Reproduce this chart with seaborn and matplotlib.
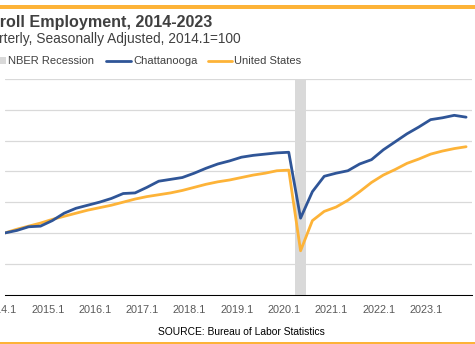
import matplotlib
matplotlib.use("Agg")
import matplotlib.pyplot as plt
import matplotlib.transforms as mtransforms
from matplotlib.patches import Rectangle
from matplotlib.lines import Line2D
import numpy as np
import pandas as pd
import seaborn as sns

# Quarterly payroll employment index, 2014.1 = 100
quarters = [f"{y}.{q}" for y in range(2014, 2024) for q in range(1, 5)]

chattanooga = [
    100.0, 100.4, 101.0, 101.1, 102.0, 103.2, 104.0, 104.5,
    105.0, 105.6, 106.4, 106.5, 107.4, 108.4, 108.7, 109.0,
    109.7, 110.5, 111.2, 111.7, 112.3, 112.6, 112.8, 113.0,
    113.1, 102.4, 106.7, 109.2, 109.7, 110.1, 111.2, 111.9,
    113.5, 114.8, 116.1, 117.2, 118.4, 118.7, 119.1, 118.8,
]
united_states = [
    100.0, 100.6, 101.1, 101.6, 102.2, 102.7, 103.2, 103.7,
    104.1, 104.5, 105.0, 105.5, 105.9, 106.2, 106.5, 106.9,
    107.4, 107.9, 108.3, 108.6, 109.0, 109.4, 109.7, 110.1,
    110.2, 97.1, 102.0, 103.5, 104.2, 105.3, 106.7, 108.2,
    109.4, 110.3, 111.3, 112.0, 112.8, 113.3, 113.7, 114.0,
]
recession_quarter = "2020.2"
tick_labels = ["2014.1", "2015.1", "2016.1", "2017.1", "2018.1",
               "2019.1", "2020.1", "2021.1", "2022.1", "2023.1"]

BLUE = "#2F5597"
GOLD = "#FDB338"
GRID = "#D9D9D9"
TEXT = "#404040"

sns.set_style("white")
plt.rcParams["font.family"] = ["Liberation Sans", "DejaVu Sans"]

pos = {q: i for i, q in enumerate(quarters)}
df = pd.DataFrame({
    "pos": list(range(len(quarters))) * 2,
    "value": chattanooga + united_states,
    "series": ["Chattanooga"] * len(quarters) + ["United States"] * len(quarters),
})

W, H = 475, 344
fig = plt.figure(figsize=(W / 100, H / 100), dpi=100)
ax = fig.add_axes([5 / W, (H - 294.5) / H, 467 / W, (294.5 - 79) / H])

# recession shading
r = pos[recession_quarter]
ax.axvspan(r - 0.5, r + 0.5, color=GRID, lw=0, zorder=1)

sns.lineplot(data=df, x="pos", y="value", hue="series",
             palette={"Chattanooga": BLUE, "United States": GOLD},
             hue_order=["United States", "Chattanooga"],
             linewidth=2, legend=False, ax=ax, zorder=3)

ax.set_xlim(0, 39.5)
ax.set_ylim(90, 125)
ax.set_yticks(np.arange(90, 126, 5))
ax.yaxis.grid(True, color=GRID, linewidth=0.9)
ax.set_axisbelow(True)
ax.tick_params(axis="y", left=False, labelleft=False)

ax.set_xticks([pos[t] for t in tick_labels])
ax.set_xticklabels(tick_labels)
ax.tick_params(axis="x", direction="out", length=2.9, width=0.75, color="black",
               labelsize=7.8, labelcolor="#595959", pad=5)
shift = mtransforms.ScaledTranslation(-4.5 / 100, 0, fig.dpi_scale_trans)
for lab in ax.get_xticklabels():
    lab.set_transform(lab.get_transform() + shift)

ax.set_xlabel("")
ax.set_ylabel("")
for s in ["top", "left", "right"]:
    ax.spines[s].set_visible(False)
ax.spines["bottom"].set_color("black")
ax.spines["bottom"].set_linewidth(0.75)

def fx(px):
    return px / W

def fy(py):
    return 1 - py / H

# header and footer bands
fig.patches.append(Rectangle((0, fy(9)), 1, 4 / H, transform=fig.transFigure,
                             color=GOLD, lw=0))
fig.patches.append(Rectangle((0, 0), 1, 2.5 / H, transform=fig.transFigure,
                             color=GOLD, lw=0))

fig.text(fx(212), fy(27), "Nonfarm Payroll Employment, 2014-2023", ha="right",
         va="baseline", fontsize=11.6, fontweight="bold", color=TEXT)
fig.text(fx(241), fy(42.5), "Quarterly, Seasonally Adjusted, 2014.1=100",
         ha="right", va="baseline", fontsize=9.9, color=TEXT)

# legend row
fig.patches.append(Rectangle((fx(0), fy(63.5)), 6 / W, 6 / H,
                             transform=fig.transFigure, color=GRID, lw=0))
fig.text(fx(8.3), fy(64.3), "NBER Recession", va="baseline", fontsize=8,
         color=TEXT)
fig.lines.append(Line2D([fx(106), fx(131)], [fy(60.5), fy(60.5)],
                        transform=fig.transFigure, color=BLUE, lw=2))
fig.text(fx(133), fy(64.3), "Chattanooga", va="baseline", fontsize=8,
         color=TEXT)
fig.lines.append(Line2D([fx(208), fx(232)], [fy(60.5), fy(60.5)],
                        transform=fig.transFigure, color=GOLD, lw=2))
fig.text(fx(233.5), fy(64.3), "United States", va="baseline", fontsize=8,
         color=TEXT)

fig.text(fx(241), fy(335), "SOURCE: Bureau of Labor Statistics", ha="center",
         va="baseline", fontsize=7.4, color="black")

fig.savefig("out.png", dpi=100)
